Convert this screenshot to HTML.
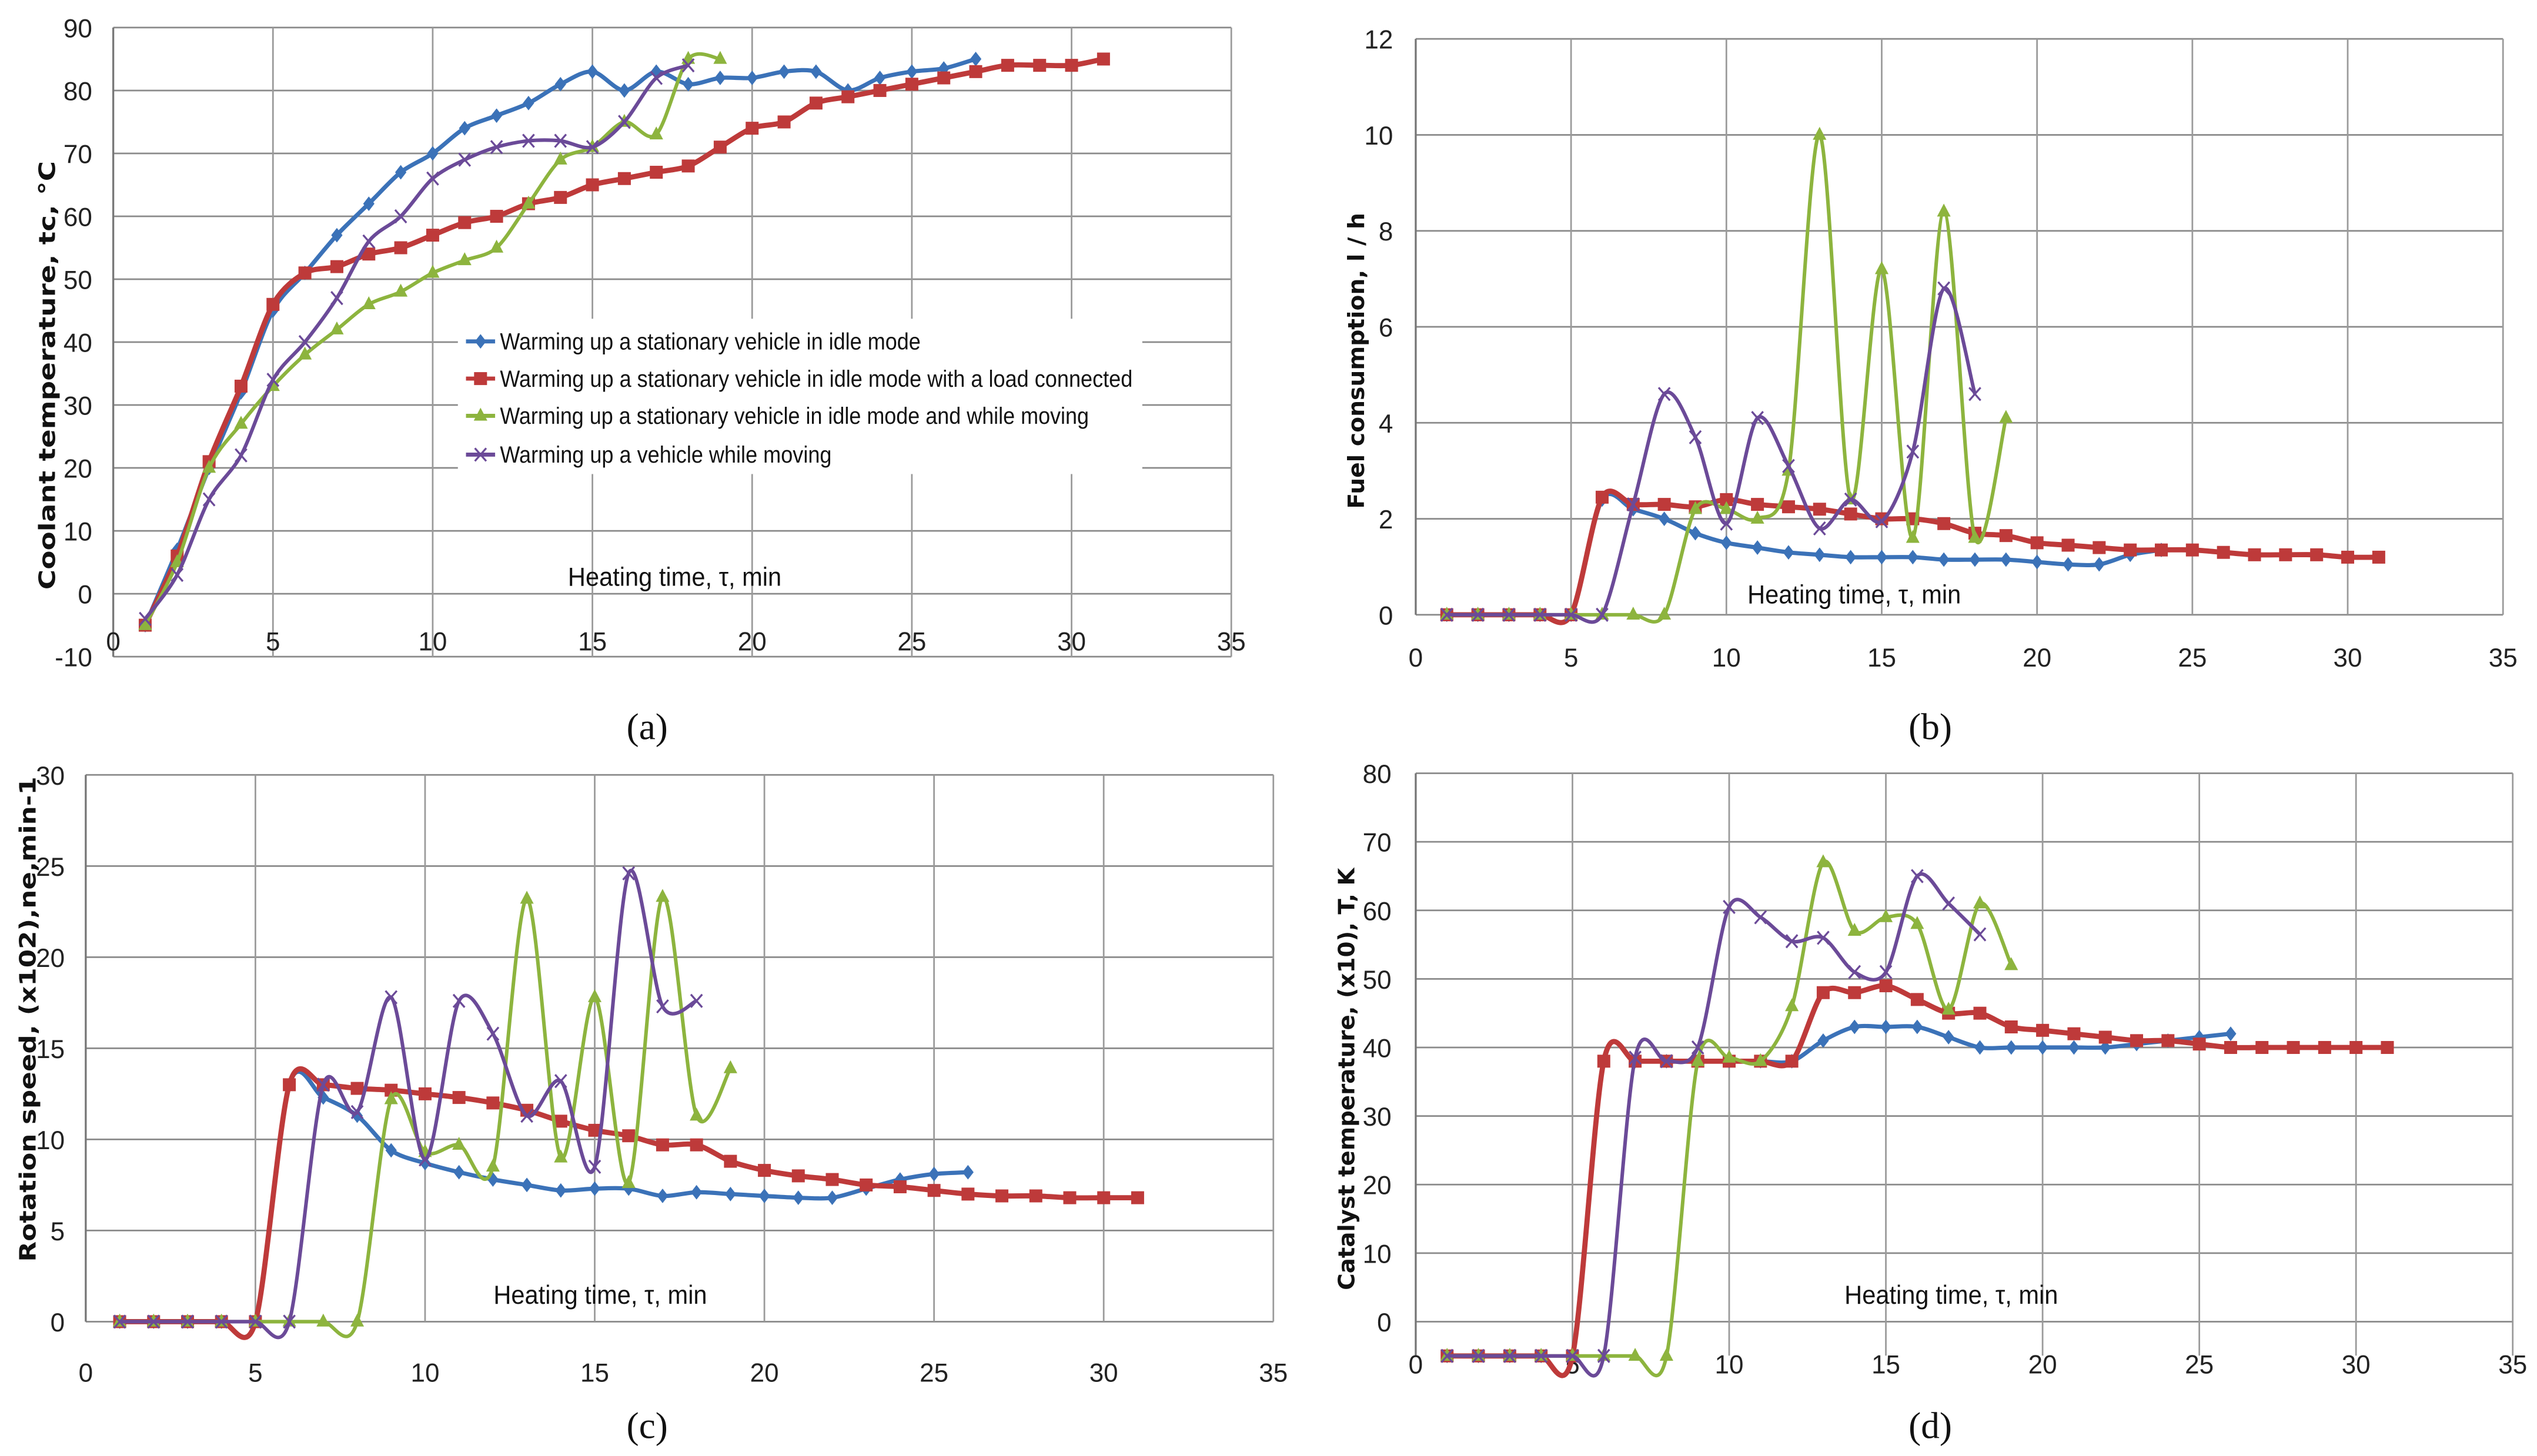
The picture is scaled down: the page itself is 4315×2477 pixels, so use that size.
<!DOCTYPE html>
<html><head><meta charset="utf-8"><style>
html,body{margin:0;padding:0;background:#fff;}
svg{display:block;}
text{font-family:"Liberation Sans Narrow","Liberation Sans",sans-serif;}
.tk{font-size:16px;fill:#222;}
.ttl{font-family:"DejaVu Sans","Liberation Sans",sans-serif;font-weight:bold;font-size:14px;fill:#111;}
.cap{font-family:"Liberation Serif",serif;font-size:23px;fill:#111;}
.ht{font-size:16px;fill:#111;}
.lg{font-size:14.5px;fill:#111;}
</style></head><body>
<svg id="root" width="4315" height="2477" viewBox="0 0 1568 900" xmlns="http://www.w3.org/2000/svg">
<rect width="1568" height="900" fill="#fff"/>
</svg>
<script>
// x values (minutes)
const xs = [1,2,3,4,5,6,7,8,9,10,11,12,13,14,15,16,17,18,19,20,21,22,23,24,25,26,27,28,29,30,31];
// Panel a: coolant temperature
const aBlue = [-5,7,20,32,45,51,57,62,67,70,74,76,78,81,83,80,83,81,82,82,83,83,80,82,83,83.5,85];
const aRed = [-5,6,21,33,46,51,52,54,55,57,59,60,62,63,65,66,67,68,71,74,75,78,79,80,81,82,83,84,84,84,85];
const aGreen = [-5,5,20,27,33,38,42,46,48,51,53,55,62,69,71,75,73,85,85];
const aPurple = [-4,3,15,22,34,40,47,56,60,66,69,71,72,72,71,75,82,84];
// Panel b: fuel consumption
const bBlue = [0,0,0,0,0,2.4,2.2,2.0,1.7,1.5,1.4,1.3,1.25,1.2,1.2,1.2,1.15,1.15,1.15,1.1,1.05,1.05,1.25,1.35];
const bRed = [0,0,0,0,0,2.45,2.3,2.3,2.25,2.4,2.3,2.25,2.2,2.1,2.0,2.0,1.9,1.7,1.65,1.5,1.45,1.4,1.35,1.35,1.35,1.3,1.25,1.25,1.25,1.2,1.2];
const bGreen = [0,0,0,0,0,0,0,0,2.2,2.2,2.0,3.0,10.0,2.4,7.2,1.6,8.4,1.6,4.1];
const bPurple = [0,0,0,0,0,0,2.3,4.6,3.7,1.9,4.1,3.1,1.8,2.4,1.95,3.4,6.8,4.6];
// Panel c: rotation speed
const cBlue = [0,0,0,0,0,13,12.3,11.3,9.4,8.7,8.2,7.8,7.5,7.2,7.3,7.3,6.9,7.1,7.0,6.9,6.8,6.8,7.3,7.8,8.1,8.2];
const cRed = [0,0,0,0,0,13,13,12.8,12.7,12.5,12.3,12.0,11.6,11.0,10.5,10.2,9.7,9.7,8.8,8.3,8.0,7.8,7.5,7.4,7.2,7.0,6.9,6.9,6.8,6.8,6.8];
const cGreen = [0,0,0,0,0,0,0,0,12.2,9.3,9.7,8.5,23.2,9.0,17.8,7.6,23.3,11.3,13.9];
const cPurple = [0,0,0,0,0,0,13,11.5,17.8,8.9,17.6,15.8,11.3,13.2,8.5,24.6,17.3,17.6];
// Panel d: catalyst temperature
const dBlue = [-5,-5,-5,-5,-5,38,38,38,38,38,38,38,41,43,43,43,41.5,40,40,40,40,40,40.5,41,41.5,42];
const dRed = [-5,-5,-5,-5,-5,38,38,38,38,38,38,38,48,48,49,47,45,45,43,42.5,42,41.5,41,41,40.5,40,40,40,40,40,40];
const dGreen = [-5,-5,-5,-5,-5,-5,-5,-5,38,38.5,38,46,67,57,59,58,45.5,61,52];
const dPurple = [-5,-5,-5,-5,-5,-5,38.5,38,40,60.5,59,55.5,56,51,51,65,61,56.5];
// ticks
const xTicks = [0,5,10,15,20,25,30,35];
const aYTicks = [-10,0,10,20,30,40,50,60,70,80,90];
const bYTicks = [0,2,4,6,8,10,12];
const cYTicks = [0,5,10,15,20,25,30];
const dYTicks = [0,10,20,30,40,50,60,70,80];
const seriesNames = ["Warming up a stationary vehicle in idle mode","Warming up a stationary vehicle in idle mode with a load connected","Warming up a stationary vehicle in idle mode and while moving","Warming up a vehicle while moving"];

const NS="http://www.w3.org/2000/svg";
const root=document.getElementById('root');
const COL={blue:"#3b72b8",red:"#be3a3a",green:"#8db43e",purple:"#6b4a98"};
function mk(tag,attrs,parent){const e=document.createElementNS(NS,tag);for(const k in attrs)e.setAttribute(k,attrs[k]);(parent||root).appendChild(e);return e;}

function smooth(pts){
  let d="M"+pts[0][0]+","+pts[0][1];
  for(let i=0;i<pts.length-1;i++){
    const p0=pts[Math.max(i-1,0)],p1=pts[i],p2=pts[i+1],p3=pts[Math.min(i+2,pts.length-1)];
    const t=0.3;
    const c1=[p1[0]+(p2[0]-p0[0])*t/2,p1[1]+(p2[1]-p0[1])*t/2];
    const c2=[p2[0]-(p3[0]-p1[0])*t/2,p2[1]-(p3[1]-p1[1])*t/2];
    d+=" C"+c1[0].toFixed(1)+","+c1[1].toFixed(1)+" "+c2[0].toFixed(1)+","+c2[1].toFixed(1)+" "+p2[0].toFixed(1)+","+p2[1].toFixed(1);
  }
  return d;
}
function marker(g,type,x,y,col){
  let m;
  if(type==="diamond")m=mk('path',{d:`M${x},${y-4.5}L${x+3.5},${y}L${x},${y+4.5}L${x-3.5},${y}Z`,fill:col},g);
  else if(type==="square")m=mk('rect',{x:x-4,y:y-4,width:8,height:8,fill:col},g);
  else if(type==="tri")m=mk('path',{d:`M${x},${y-5}L${x+4.2},${y+3}L${x-4.2},${y+3}Z`,fill:col},g);
  else m=mk('path',{d:`M${x-3.5},${y-4}L${x+3.5},${y+4}M${x+3.5},${y-4}L${x-3.5},${y+4}`,stroke:col,'stroke-width':1.2,fill:'none'},g);
  return m;
}
function panel(name,cfg){
  const g=mk('g',{});
  
  
  const X=v=>cfg.x0+(v-0)*(cfg.x1-cfg.x0)/35;
  const Y=v=>cfg.yA+(v-cfg.vA)*(cfg.yB-cfg.yA)/(cfg.vB-cfg.vA);
  const grid=mk('g',{},g);
  
  
  cfg.yt.forEach(v=>{mk('line',{x1:X(0),x2:X(35),y1:Y(v),y2:Y(v),stroke:'#8a8a8a','stroke-width':1},grid);});
  xTicks.forEach(v=>{if(v>0)mk('line',{x1:X(v),x2:X(v),y1:Y(cfg.yt[cfg.yt.length-1]),y2:cfg.yBot,stroke:'#9a9a9a','stroke-width':1},grid);});
  const ax=mk('line',{x1:X(0),x2:X(0),y1:Y(cfg.yt[cfg.yt.length-1]),y2:cfg.yBot,stroke:'#777','stroke-width':1.2},g);
  
  
  const yl=mk('g',{},g);
  
  
  cfg.yt.forEach(v=>{const t=mk('text',{x:cfg.ylx,y:Y(v)+6,'text-anchor':'end',class:'tk'},yl);t.textContent=v;});
  const xl=mk('g',{},g);
  
  
  xTicks.forEach(v=>{const t=mk('text',{x:X(v),y:cfg.xly,'text-anchor':'middle',class:'tk'},xl);t.textContent=v;});
  if(cfg.legend){
    const lg=mk('g',{},g);
    
    
    mk('rect',{x:283,y:197,width:423,height:96,fill:'#fff'},lg);
  }
  const ser=[[cfg.s[0],COL.blue,'diamond'],[cfg.s[1],COL.red,'square'],[cfg.s[2],COL.green,'tri'],[cfg.s[3],COL.purple,'x']];
  const sw=[2.6,3.2,2.2,2.2];
  const nm=['series-idle','series-load','series-idle-moving','series-moving'];
  ser.forEach((s,i)=>{
    const sg=mk('g',{},g);
    
    
    const pts=s[0].map((v,j)=>[X(xs[j]),Y(v)]);
    mk('path',{d:smooth(pts),fill:'none',stroke:s[1],'stroke-width':sw[i],'stroke-linejoin':'round'},sg);
    pts.forEach(p=>marker(sg,s[2],p[0],p[1],s[1]));
  });
  const tt=mk('text',{transform:`translate(${cfg.tx},${cfg.ty}) rotate(-90)`,'text-anchor':'middle',class:'ttl',textLength:cfg.tl,lengthAdjust:'spacingAndGlyphs'},g);
  
  
  tt.textContent=cfg.title;
  const ht=mk('text',{x:cfg.hx,y:cfg.hy,'text-anchor':'middle',class:'ht',textLength:132,lengthAdjust:'spacingAndGlyphs'},g);
  
  
  ht.textContent="Heating  time, τ, min";
  const cp=mk('text',{x:cfg.cx,y:cfg.cy,'text-anchor':'middle',class:'cap'},g);
  
  
  cp.textContent=cfg.cap;
  if(cfg.legend){
    const lg=mk('g',{},g);
    
    
    const ys=[211,234,257,281];
    const lens=[260,391,364,205];
    ser.forEach((s,i)=>{
      const e=mk('g',{},lg);
      
      
      mk('line',{x1:288,x2:306,y1:ys[i],y2:ys[i],stroke:s[1],'stroke-width':2.5},e);
      marker(e,s[2],297,ys[i],s[1]);
      const t=mk('text',{x:309,y:ys[i]+5,class:'lg',textLength:lens[i],lengthAdjust:'spacingAndGlyphs'},e);
      t.textContent=seriesNames[i];
    });
  }
}
panel('chart-a-coolant',{x0:70,x1:761,vA:0,yA:367,vB:90,yB:17,yBot:406,yt:aYTicks,ylx:57,xly:402,s:[aBlue,aRed,aGreen,aPurple],title:"Coolant  temperature, tc, °C",tl:265,tx:34,ty:232,hx:417,hy:362,cx:400,cy:457,cap:"(a)",legend:true});
panel('chart-b-fuel',{x0:875,x1:1547,vA:0,yA:380,vB:12,yB:24,yBot:380,yt:bYTicks,ylx:861,xly:412,s:[bBlue,bRed,bGreen,bPurple],title:"Fuel consumption, l / h",tl:183,tx:843,ty:223,hx:1146,hy:373,cx:1193,cy:457,cap:"(b)",legend:false});
panel('chart-c-rotation',{x0:53,x1:787,vA:0,yA:817,vB:30,yB:479,yBot:817,yt:cYTicks,ylx:40,xly:854,s:[cBlue,cRed,cGreen,cPurple],title:"Rotation speed, (x102),ne,min-1",tl:300,tx:22,ty:630,hx:371,hy:806,cx:400,cy:889,cap:"(c)",legend:false});
panel('chart-d-catalyst',{x0:875,x1:1553,vA:0,yA:817,vB:80,yB:478,yBot:838,yt:dYTicks,ylx:860,xly:849,s:[dBlue,dRed,dGreen,dPurple],title:"Catalyst temperature,  (x10), T, K",tl:261,tx:837,ty:667,hx:1206,hy:806,cx:1193,cy:889,cap:"(d)",legend:false});
</script>
</body></html>
